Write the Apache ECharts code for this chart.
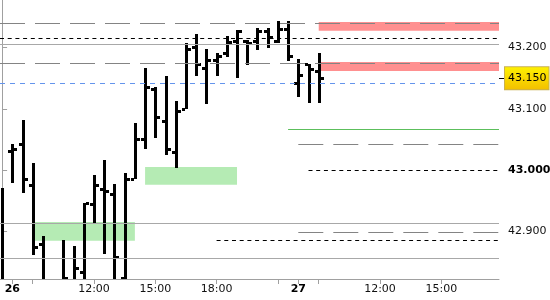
<!DOCTYPE html>
<html>
<head>
<meta charset="utf-8">
<script src="https://cdn.jsdelivr.net/npm/echarts@6/dist/echarts.min.js"></script>
<style>html,body{margin:0;padding:0;background:#fff}#c{width:550px;height:300px}</style>
</head>
<body>
<div id="c"></div>
<script>
// ---- data (30-minute OHLC bars, x = bar slot index) ----
const barTimes = ['25 21:30','26 08:00','08:30','09:00','09:30','10:00','10:30','11:00','11:30','12:00',
  '12:30','13:00','13:30','14:00','14:30','15:00','15:30','16:00','16:30','17:00','17:30','18:00',
  '18:30','19:00','19:30','20:00','20:30','21:00','21:30','27 08:00','08:30','09:00'];
const opens  = [42.812,43.031,43.042,42.976,42.879,42.810,42.810,42.815,42.834,42.944,42.969,42.960,42.823,42.986,43.051,43.132,43.080,43.030,43.100,43.201,43.166,43.180,43.191,43.210,43.211,43.210,43.227,43.211,43.230,43.142,43.173,43.162];
const highs  = [42.971,43.043,43.082,43.012,42.892,42.818,42.886,42.876,42.946,42.992,43.016,42.977,42.995,43.076,43.166,43.136,43.154,43.113,43.207,43.223,43.197,43.191,43.219,43.228,43.212,43.232,43.232,43.243,43.243,43.181,43.174,43.192];
const lows   = [42.800,42.978,42.963,42.861,42.805,42.795,42.800,42.800,42.800,42.914,42.862,42.818,42.818,42.986,43.034,43.053,43.024,43.003,43.099,43.154,43.108,43.154,43.184,43.150,43.171,43.196,43.199,43.208,43.178,43.119,43.109,43.109];
const closes = [42.808,43.034,42.985,42.875,42.812,42.800,42.8235,42.840,42.946,42.976,42.965,42.858,42.986,43.051,43.135,43.086,43.034,43.096,43.197,43.173,43.180,43.187,43.209,43.227,43.208,43.227,43.218,43.230,43.186,43.156,43.165,43.150];
const lastPrice = 43.150;

// x-axis ticks / labels (slot indices)
const tickSlots  = [1,3,9,15,21,27,29,31,37,43];
const labelSlots = [1,9,15,21,29,37,43];
const labelTexts = ['26','12:00','15:00','18:00','27','12:00','15:00'];
const dayLabels  = ['26','27'];
// y-axis labels
const yTicks = [42.9, 43.0, 43.1, 43.2];

// horizontal levels: values and first slot (null = full width)
const grayDashLevels  = [43.2397, 43.1743, 43.042, 42.8975];
const grayDashStarts  = [null, null, 29, 29];
const blackDashLevels = [43.2152, 43.000, 42.8845];
const blackDashStarts = [null, 30, 21];
const graySolidLevels = [43.2059, 42.9134, 42.8557];
const blueDashLevels  = [43.1417];
const greenLevels     = [43.067];
const greenStarts     = [28];
// zones: [top, bottom], first slot, last slot (null = right edge)
const redZoneTops     = [43.2418, 43.1765];
const redZoneBottoms  = [43.2276, 43.1618];
const redZoneStarts   = [31, 31];
const greenZoneTops   = [43.0049, 42.915];
const greenZoneBottoms= [42.976, 42.8845];
const greenZoneStarts = [14, 3];
const greenZoneEnds   = [23, 13];

// ---- view ----
const X_MIN = -0.205, X_MAX = 48.65;
const Y_MIN = 42.8219, Y_MAX = 43.2778;
const FONT = 'DejaVu Sans';

const chart = echarts.init(document.getElementById('c'), null, {renderer:'canvas'});

const lineItems = [];
function addLevels(values, starts, style) {
  values.forEach((v, k) => {
    const s = (starts && starts[k] != null) ? starts[k] : X_MIN;
    lineItems.push([{coord:[s, v], lineStyle: style}, {coord:[X_MAX, v]}]);
  });
}
addLevels(graySolidLevels, null, {color:'#a8a8a8', width:1, type:'solid'});
addLevels(grayDashLevels, grayDashStarts, {color:'#848484', width:1, type:[25,10]});
addLevels(blackDashLevels, blackDashStarts, {color:'#000', width:1, type:[4,3.7]});
addLevels(blueDashLevels, null, {color:'#6495ed', width:1, type:[5,5]});
addLevels(greenLevels, greenStarts, {color:'#5cbf5c', width:1, type:'solid'});

const areaItems = [];
redZoneTops.forEach((t, k) => areaItems.push([
  {coord:[redZoneStarts[k], t], itemStyle:{color:'#ff9090', opacity:1}}, {coord:[X_MAX, redZoneBottoms[k]]}]));
greenZoneTops.forEach((t, k) => areaItems.push([
  {coord:[greenZoneStarts[k], t], itemStyle:{color:'#b5ebb4', opacity:1}}, {coord:[greenZoneEnds[k], greenZoneBottoms[k]]}]));

function renderOHLC(params, api) {
  const i = api.value(0);
  const x = api.coord([i, api.value(1)])[0];
  const yO = api.coord([i, api.value(1)])[1];
  const yH = api.coord([i, api.value(2)])[1];
  const yL = api.coord([i, api.value(3)])[1];
  const yC = api.coord([i, api.value(4)])[1];
  const xl = Math.round(x) - 1;
  const style = {fill:'#000'};
  const top = Math.round(yH), bot = Math.round(yL);
  return {type:'group', children:[
    {type:'rect', shape:{x:xl, y:top, width:3, height:Math.max(1, bot-top)}, style},
    {type:'rect', shape:{x:xl-3, y:Math.round(yO)-1, width:3, height:3}, style},
    {type:'rect', shape:{x:xl+3, y:Math.round(yC)-1, width:3, height:3}, style}
  ]};
}

const priceBg = new echarts.graphic.LinearGradient(0,0,0,1,[
  {offset:0, color:'#fff200'}, {offset:1, color:'#f2bf00'}]);

chart.setOption({
  animation:false,
  backgroundColor:'#fff',
  grid:{left:0, right:51, top:0, bottom:21, containLabel:false, outerBoundsMode:'none'},
  xAxis:{
    type:'value', min:X_MIN, max:X_MAX,
    axisLine:{show:true, onZero:false, lineStyle:{color:'#a0a0a0'}},
    axisTick:{show:true, customValues:tickSlots, length:5, lineStyle:{color:'#a0a0a0'}},
    axisLabel:{
      customValues:labelSlots, margin:5, color:'#111', fontFamily:FONT, fontSize:11,
      formatter:(v) => {
        const k = labelSlots.indexOf(Math.round(v));
        const t = k >= 0 ? labelTexts[k] : '';
        return dayLabels.indexOf(t) >= 0 ? '{b|' + t + '}' : t;
      },
      rich:{b:{fontWeight:'bold', color:'#000', fontFamily:FONT, fontSize:11}}
    },
    splitLine:{show:false}
  },
  yAxis:[{
    type:'value', position:'right', min:Y_MIN, max:Y_MAX,
    axisLine:{show:true, lineStyle:{color:'#a0a0a0'}},
    axisTick:{show:true, customValues:yTicks, length:5, lineStyle:{color:'#a0a0a0'}},
    axisLabel:{
      customValues:yTicks, margin:9, color:'#111', fontFamily:FONT, fontSize:11,
      formatter:(v) => Math.abs(v - 43) < 1e-9 ? '{b|' + v.toFixed(3) + '}' : v.toFixed(3),
      rich:{b:{fontWeight:'bold', color:'#000', fontFamily:FONT, fontSize:11}}
    },
    splitLine:{show:false}
  },{
    type:'value', position:'right', min:Y_MIN, max:Y_MAX,
    axisLine:{show:false},
    axisTick:{show:true, customValues:[lastPrice], length:5, lineStyle:{color:'#000'}},
    axisLabel:{
      customValues:[lastPrice], margin:6, color:'#000', fontFamily:FONT, fontSize:11, lineHeight:13,
      formatter:(v) => v.toFixed(3),
      backgroundColor:priceBg, borderColor:'#c8b050', borderWidth:1, padding:[5,2,4,3]
    },
    splitLine:{show:false}
  }],
  series:[
    {type:'line', data:[], silent:true, z:1,
     markArea:{silent:true, data:areaItems}},
    {type:'line', data:[], silent:true, z:2,
     markLine:{silent:true, symbol:['none','none'], label:{show:false}, data:lineItems}},
    {type:'custom', z:3, clip:true, silent:true,
     encode:{x:0, y:[1,2,3,4]},
     data:barTimes.map((t, i) => [i, opens[i], highs[i], lows[i], closes[i]]),
     renderItem:renderOHLC}
  ]
});
</script>
</body>
</html>
